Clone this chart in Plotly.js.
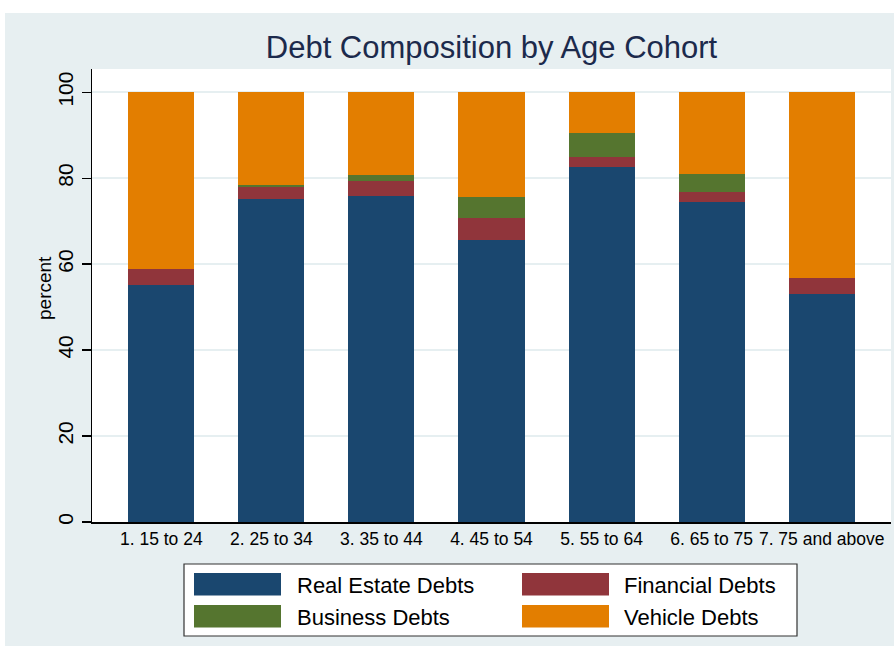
<!DOCTYPE html>
<html>
<head>
<meta charset="utf-8">
<script src="https://cdn.plot.ly/plotly-3.0.1.min.js"></script>
<style>
  html, body { margin: 0; padding: 0; background: #ffffff; }
  #chart { position: absolute; left: 5px; top: 13px; width: 889px; height: 633px; }
</style>
</head>
<body>
<div id="chart"></div>
<script>
// ---- data ----
const categories = ["1. 15 to 24", "2. 25 to 34", "3. 35 to 44", "4. 45 to 54", "5. 55 to 64", "6. 65 to 75", "7. 75 and above"];
const realEstateDebts = [55.1, 75.2, 75.9, 65.7, 82.7, 74.4, 53.0];
const financialDebts  = [3.7, 2.8, 3.5, 5.0, 2.15, 2.45, 3.8];
const businessDebts   = [0.0, 0.3, 1.3, 5.0, 5.75, 4.2, 0.0];
const vehicleDebts    = [41.2, 21.7, 19.3, 24.3, 9.4, 18.95, 43.2];
const seriesNames = ["Real Estate Debts", "Financial Debts", "Business Debts", "Vehicle Debts"];
const yTicks = [0, 20, 40, 60, 80, 100];
const yTitle = "percent";

// ---- styles ----
const colors = ["#1a476f", "#90353b", "#55752f", "#e37e00"];
const FONT = "Liberation Sans, Arial, Helvetica, sans-serif";
const W = 889, H = 633;
const M = { l: 87, r: 3, t: 56, b: 124 };
const PW = W - M.l - M.r, PH = H - M.t - M.b;
const px = X => (X - M.l) / PW;
const py = Y => (M.t + PH - Y) / PH;

const seriesVals = [realEstateDebts, financialDebts, businessDebts, vehicleDebts];
const traces = seriesVals.map((vals, i) => ({
  type: "bar",
  name: seriesNames[i],
  x: categories,
  y: vals,
  marker: { color: colors[i], line: { width: 0 } },
  showlegend: false,
  hoverinfo: "name+y"
}));

// custom legend (large swatches like the original)
const shapes = [];
const annotations = [];
shapes.push({ type: "rect", xref: "paper", yref: "paper",
  x0: px(179), x1: px(792), y0: py(551), y1: py(623),
  line: { color: "#333333", width: 1.2 }, fillcolor: "#ffffff", layer: "above" });
const legendPos = [
  { sx: 189, tx: 290, sy: 560 },
  { sx: 517, tx: 617, sy: 560 },
  { sx: 189, tx: 290, sy: 592 },
  { sx: 517, tx: 617, sy: 592 }
];
seriesNames.forEach((name, i) => {
  const p = legendPos[i];
  shapes.push({ type: "rect", xref: "paper", yref: "paper",
    x0: px(p.sx), x1: px(p.sx + 87), y0: py(p.sy), y1: py(p.sy + 22.5),
    line: { width: 0 }, fillcolor: colors[i], layer: "above" });
  annotations.push({ xref: "paper", yref: "paper", x: px(p.tx), y: py(p.sy + 12),
    xanchor: "left", yanchor: "middle", showarrow: false, text: name,
    font: { family: FONT, size: 22, color: "#000000" } });
});
// y-axis title placed like the original
annotations.push({ xref: "paper", yref: "paper", x: px(39), y: py(275),
  xanchor: "center", yanchor: "middle", showarrow: false, textangle: -90,
  text: yTitle, font: { family: FONT, size: 19, color: "#000000" } });

const layout = {
  width: W, height: H,
  margin: M,
  paper_bgcolor: "#e7eff1",
  plot_bgcolor: "#ffffff",
  barmode: "stack",
  bargap: 0.4,
  title: {
    text: "Debt Composition by Age Cohort",
    font: { family: FONT, size: 31, color: "#1c2a4c" },
    x: 0.5, xref: "paper", xanchor: "center",
    y: 1 - 34 / H, yref: "container", yanchor: "middle"
  },
  xaxis: {
    type: "category",
    range: [-0.63, 6.63],
    showgrid: false,
    showline: true, linecolor: "#000000", linewidth: 1.5,
    ticks: "", tickfont: { family: FONT, size: 17.5, color: "#000000" },
    fixedrange: true
  },
  yaxis: {
    range: [0, 105.4],
    tickvals: yTicks,
    ticktext: yTicks.map(String),
    tickangle: -90,
    ticks: "outside", ticklen: 9, tickwidth: 1.3, tickcolor: "#000000",
    tickfont: { family: FONT, size: 21, color: "#000000" },
    showline: true, linecolor: "#000000", linewidth: 1.3,
    showgrid: true, gridcolor: "#e6eff1", gridwidth: 1.5,
    zeroline: false,
    fixedrange: true
  },
  shapes: shapes,
  annotations: annotations
};

Plotly.newPlot("chart", traces, layout, { displayModeBar: false, staticPlot: true });
</script>
</body>
</html>
